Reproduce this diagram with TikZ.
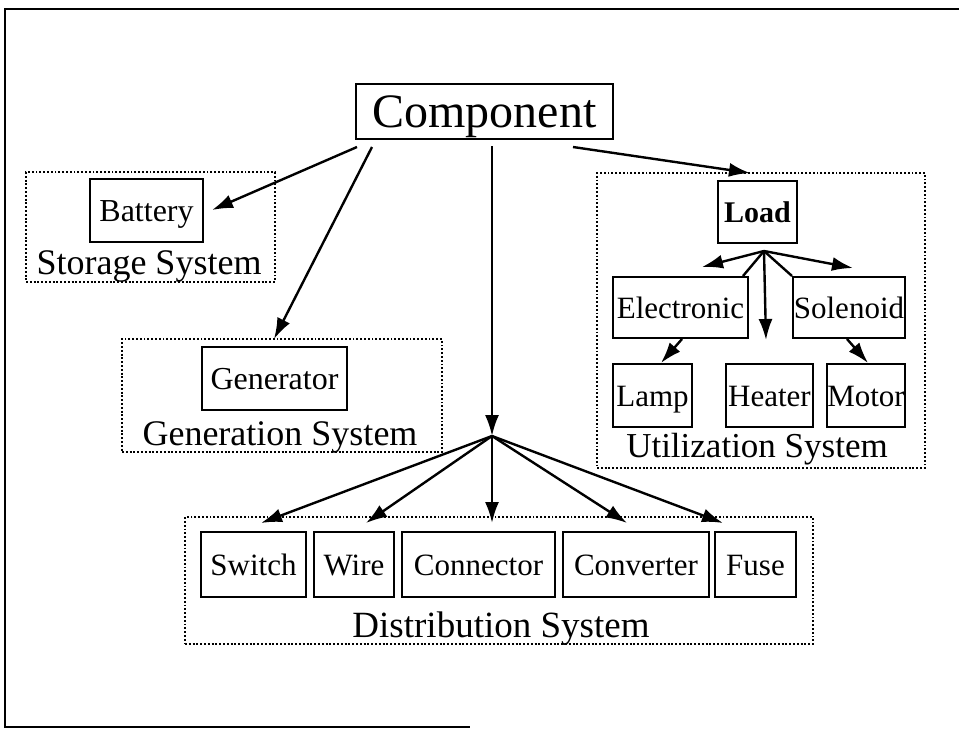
\documentclass[tikz,border=0pt]{standalone}
\usepackage{fontspec}
\setmainfont{Liberation Serif}
\usetikzlibrary{arrows.meta}
\newcommand{\fsz}[1]{\fontsize{#1}{#1}\selectfont}
\tikzset{
  boxn/.style={draw, line width=2pt, inner sep=0pt, text height=21pt, text depth=0pt, font=\fsz{31}},
  grp/.style={draw, line width=1.9pt, dash pattern=on 1.9pt off 1.9pt},
  lbl/.style={inner sep=0pt, anchor=base, font=\fsz{36}},
  arr/.style={line width=2.4pt, -{Latex[length=21pt,width=14pt]}},
  ln/.style={line width=2.4pt}
}
\begin{document}
\begin{tikzpicture}[x=1pt,y=-1pt]
\useasboundingbox (0,0) rectangle (959,729);
% outer frame (partial, as in scan)
\draw[line width=2.4pt] (959,9) -- (5,9) -- (5,727) -- (470,727);

% top node
\node[boxn, font=\fsz{48}, text height=32pt, minimum width=257pt, minimum height=55pt] (comp) at (484.5,111.5) {Component};

% storage
\node[grp, minimum width=249pt, minimum height=110pt, inner sep=0pt] (storage) at (150.5,227) {};
\node[boxn, font=\fsz{32}, minimum width=113pt, minimum height=63pt] (battery) at (146.5,210.5) {Battery};
\node[lbl] (storagelbl) at (149,274) {Storage System};

% generation
\node[grp, minimum width=320pt, minimum height=113pt, inner sep=0pt] (generation) at (282,395.5) {};
\node[boxn, font=\fsz{32}, minimum width=145pt, minimum height=63pt] (generator) at (274.5,378.5) {Generator};
\node[lbl] (generationlbl) at (280,445) {Generation System};

% utilization
\node[grp, minimum width=328pt, minimum height=295pt, inner sep=0pt] (utilization) at (761,320.5) {};
\node[boxn, font=\fsz{30}\bfseries, text height=20pt, minimum width=79pt, minimum height=62pt] (load) at (757.5,212) {Load};
\node[boxn, minimum width=135pt, minimum height=61pt] (electronic) at (680.5,307.5) {Electronic};
\node[boxn, minimum width=112pt, minimum height=61pt] (solenoid) at (849,307.5) {Solenoid};
\node[boxn, minimum width=79pt, minimum height=63pt] (lamp) at (652.5,395.5) {Lamp};
\node[boxn, minimum width=87pt, minimum height=63pt] (heater) at (769.5,395.5) {Heater};
\node[boxn, minimum width=78pt, minimum height=63pt] (motor) at (866,395.5) {Motor};
\node[lbl, font=\fsz{35}] (utilizationlbl) at (757,457) {Utilization System};

% distribution
\node[grp, minimum width=628pt, minimum height=127pt, inner sep=0pt] (distribution) at (499,580.5) {};
\node[boxn, minimum width=105pt, minimum height=65pt] (switch) at (253.5,564.5) {Switch};
\node[boxn, minimum width=80pt, minimum height=65pt] (wire) at (354,564.5) {Wire};
\node[boxn, minimum width=153pt, minimum height=65pt] (connector) at (478.5,564.5) {Connector};
\node[boxn, minimum width=146pt, minimum height=65pt] (converter) at (636,564.5) {Converter};
\node[boxn, minimum width=81pt, minimum height=65pt] (fuse) at (755.5,564.5) {Fuse};
\node[lbl, font=\fsz{37}] (distributionlbl) at (501,637) {Distribution System};

% connector end points
\coordinate (cA) at (357,147);
\coordinate (cB) at (372,147);
\coordinate (cC) at (492,146);
\coordinate (cD) at (573,147);
\coordinate (tBat) at (212,210);
\coordinate (tGen) at (274,339);
\coordinate (hub) at (492,436);
\coordinate (tLoad) at (750,173);
\coordinate (tSw) at (261,523);
\coordinate (tWi) at (366,523);
\coordinate (tCn) at (492,523);
\coordinate (tCv) at (627,523);
\coordinate (tFu) at (723,523);
\coordinate (lhub) at (764,251);
\coordinate (tL1) at (702,267);
\coordinate (tL2) at (853,268);
\coordinate (tL3) at (766,340);
\coordinate (eC) at (743,276);
\coordinate (sC) at (792,276);
\coordinate (eB) at (682,339);
\coordinate (tLamp) at (661,363);
\coordinate (sB) at (847,339);
\coordinate (tMotor) at (868,363);

\draw[arr] (cA) -- (tBat);
\draw[arr] (cB) -- (tGen);
\draw[arr] (cC) -- (hub);
\draw[arr] (cD) -- (tLoad);
\draw[arr] (hub) -- (tSw);
\draw[arr] (hub) -- (tWi);
\draw[arr] (hub) -- (tCn);
\draw[arr] (hub) -- (tCv);
\draw[arr] (hub) -- (tFu);
\draw[arr] (lhub) -- (tL1);
\draw[arr] (lhub) -- (tL2);
\draw[arr] (lhub) -- (tL3);
\draw[ln] (lhub) -- (eC);
\draw[ln] (lhub) -- (sC);
\draw[arr] (eB) -- (tLamp);
\draw[arr] (sB) -- (tMotor);
\end{tikzpicture}
\end{document}
